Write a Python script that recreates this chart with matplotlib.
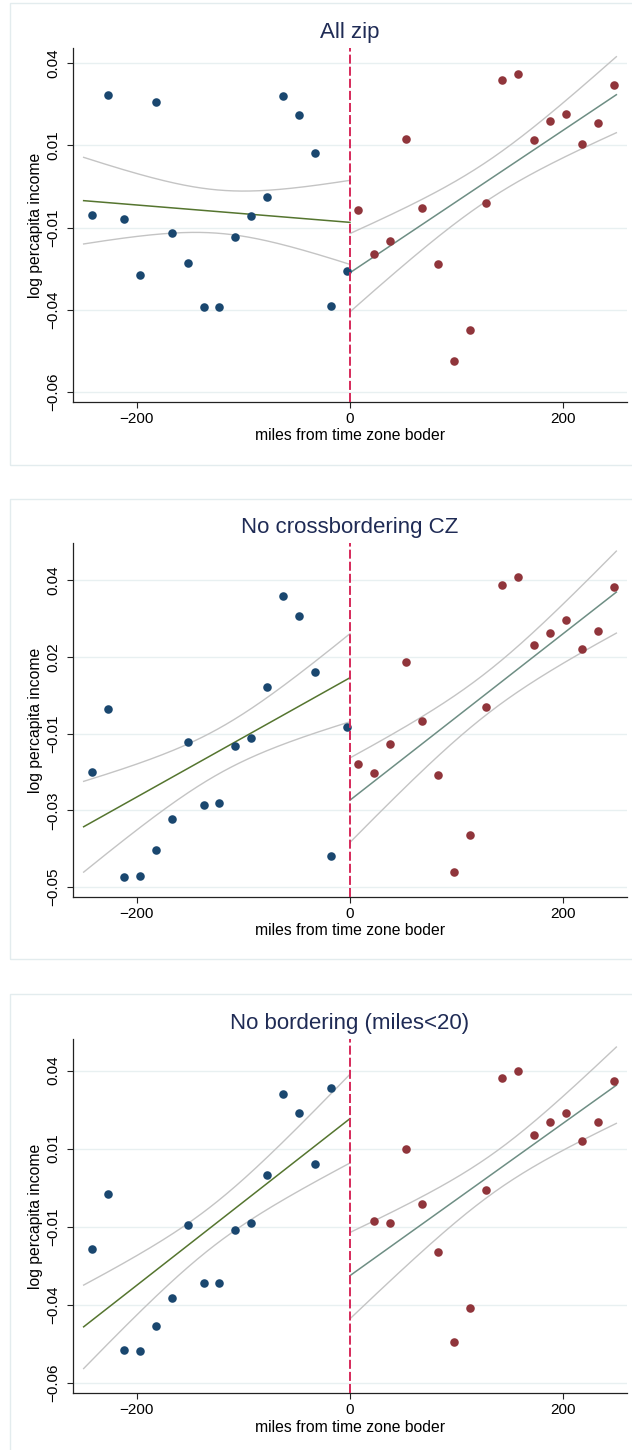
#!/usr/bin/env python3
# binned scatter of log percapita income around the time zone border, three samples
import matplotlib
matplotlib.use('Agg')
import matplotlib.pyplot as plt
from matplotlib.patches import Rectangle
import numpy as np

plt.rcParams['font.family'] = ['Liberation Sans', 'DejaVu Sans']
plt.rcParams['lines.scale_dashes'] = False

# bin centers (miles from border)
west_x = [-242.5, -227.5, -212.5, -197.5, -182.5, -167.5, -152.5, -137.5, -122.5,
          -107.5, -92.5, -77.5, -62.5, -47.5, -32.5, -17.5, -2.5]
east_x = [7.5, 22.5, 37.5, 52.5, 67.5, 82.5, 97.5, 112.5, 127.5,
          142.5, 157.5, 172.5, 187.5, 202.5, 217.5, 232.5, 247.5]

# panel 1: all zip
allzip_west = [-0.0062, 0.0304, -0.0075, -0.0244, 0.0281, -0.0115, -0.0208, -0.0340, -0.0340,
               -0.0128, -0.0065, -0.0007, 0.0301, 0.0241, 0.0128, -0.0337, -0.0231]
allzip_east = [-0.0046, -0.0180, -0.0141, 0.0169, -0.0040, -0.0210, -0.0504, -0.0410, -0.0025,
               0.0348, 0.0368, 0.0167, 0.0225, 0.0246, 0.0155, 0.0219, 0.0334]

# panel 2: no crossbordering CZ
nocz_west = [-0.0162, 0.0022, -0.0470, -0.0467, -0.0390, -0.0300, -0.0074, -0.0259, -0.0253,
             -0.0087, -0.0064, 0.0088, 0.0353, 0.0295, 0.0130, -0.0409, -0.0031]
nocz_east = [-0.0139, -0.0164, -0.0080, 0.0161, -0.0014, -0.0171, -0.0457, -0.0348, 0.0027,
             0.0387, 0.0409, 0.0210, 0.0246, 0.0282, 0.0198, 0.0250, 0.0379]

# panel 3: no bordering (miles<20) -> drops bins -2.5 and 7.5
nob_west_x = west_x[:-1]
nob_east_x = east_x[1:]
nob_west = [-0.0173, 0.0004, -0.0495, -0.0498, -0.0419, -0.0329, -0.0096, -0.0280, -0.0280,
            -0.0112, -0.0088, 0.0064, 0.0326, 0.0265, 0.0102, 0.0343]
nob_east = [-0.0082, -0.0089, 0.0150, -0.0028, -0.0181, -0.0470, -0.0362, 0.0016,
            0.0375, 0.0397, 0.0195, 0.0234, 0.0265, 0.0175, 0.0235, 0.0367]

# linear fits (estimated on the zip level data, read at the ends of each side)
fit_x_west = [-250, 0]
fit_x_east = [0, 250]
fit_allzip = ([-0.0018, -0.0084], [-0.0237, 0.0304])
fit_nocz = ([-0.0323, 0.0114], [-0.0245, 0.0365])
fit_nob = ([-0.0421, 0.0246], [-0.0257, 0.0353])
# scale of the confidence band (west, east)
ci_scales = [(0.0271, 0.0245), (0.0274, 0.0255), (0.0267, 0.0252)]

titles = ['All zip', 'No crossbordering CZ', 'No bordering (miles<20)']

# y axis ticks (stata rounds the labels)
ticks_1 = [0.04, 0.015, -0.01, -0.035, -0.06]
ticks_2 = [0.04, 0.0175, -0.005, -0.0275, -0.05]
ticks_3 = [0.04, 0.015, -0.01, -0.035, -0.06]
labels_1 = ['0.04', '0.01', '\u22120.01', '\u22120.04', '\u22120.06']
labels_2 = ['0.04', '0.02', '\u22120.01', '\u22120.03', '\u22120.05']
labels_3 = ['0.04', '0.01', '\u22120.01', '\u22120.04', '\u22120.06']

ylims = [(-0.0630, 0.0446), (-0.0529, 0.0509), (-0.0633, 0.0501)]

NAVY = '#1a476f'
MAROON = '#90353b'
GREEN = '#55752f'
TEAL = '#6e8e84'
CIGRAY = '#c4c4c4'
BORDER = '#e3ecee'

W, H = 632, 1450


def fitci(bx, fx, fy, scale):
    # line through the fitted ends, band shaped like an OLS prediction CI
    bx = np.asarray(bx, dtype=float)
    xs = np.linspace(fx[0], fx[1], 200)
    fit = np.interp(xs, fx, fy)
    xbar = bx.mean()
    sxx = np.sum((bx - xbar) ** 2)
    half = scale * np.sqrt(1.0 / len(bx) + (xs - xbar) ** 2 / sxx)
    return xs, fit, fit - half, fit + half


def panel(fig, top_px, bottom_px, title, wx, wy, ex, ey, fits, ticks, labels, ylim, scales):
    left_px, right_px = 73, 627
    ax = fig.add_axes([left_px / W, 1 - bottom_px / H,
                       (right_px - left_px) / W, (bottom_px - top_px) / H])

    for t in ticks:
        ax.axhline(t, color='#e8f0f1', lw=1.0, zorder=0)

    xs, fit, lo, hi = fitci(wx, fit_x_west, fits[0], scales[0])
    ax.plot(xs, lo, color=CIGRAY, lw=1.0, zorder=2)
    ax.plot(xs, hi, color=CIGRAY, lw=1.0, zorder=2)
    ax.plot(xs, fit, color=GREEN, lw=1.1, zorder=3)

    xs, fit, lo, hi = fitci(ex, fit_x_east, fits[1], scales[1])
    ax.plot(xs, lo, color=CIGRAY, lw=1.0, zorder=2)
    ax.plot(xs, hi, color=CIGRAY, lw=1.0, zorder=2)
    ax.plot(xs, fit, color=TEAL, lw=1.1, zorder=3)

    ax.scatter(wx, wy, s=38, color=NAVY, linewidths=0, zorder=4)
    ax.scatter(ex, ey, s=38, color=MAROON, linewidths=0, zorder=4)

    ax.axvline(0, color='#d6295a', lw=1.4, dashes=(6.5, 2.2), zorder=5)

    ax.set_xlim(-260, 260)
    ax.set_ylim(*ylim)
    ax.set_xticks([-200, 0, 200])
    ax.set_xticklabels(['\u2212200', '0', '200'])
    ax.set_yticks(ticks)
    ax.set_yticklabels(labels, rotation=90, va='center')

    for s in ['top', 'right']:
        ax.spines[s].set_visible(False)
    for s in ['left', 'bottom']:
        ax.spines[s].set_color('#222222')
        ax.spines[s].set_linewidth(0.9)
    ax.tick_params(axis='both', length=4, width=0.8, color='#222222', labelsize=11)
    ax.tick_params(axis='y', pad=5)
    ax.tick_params(axis='x', pad=3)

    ax.set_xlabel('miles from time zone boder', fontsize=11.3)
    ax.xaxis.set_label_coords(0.5, -34 / 354)
    ax.xaxis.label.set_va('center')
    ax.set_ylabel('log percapita income', fontsize=11.3)
    ax.yaxis.set_label_coords(-37 / 554, 0.5)
    ax.yaxis.label.set_va('center')

    ax.text(0.5, 1 + 9.5 / 354, title, transform=ax.transAxes, ha='center', va='baseline',
            fontsize=16, color='#1f2b55')
    return ax


def main():
    fig = plt.figure(figsize=(W / 100, H / 100), dpi=100)

    # light frames around each graph
    for y0, y1 in [(3, 465), (499, 959), (994, 1460)]:
        fig.patches.append(Rectangle((10 / W, 1 - y1 / H), 640 / W, (y1 - y0) / H,
                                     transform=fig.transFigure, fill=False,
                                     edgecolor=BORDER, lw=1.0))

    panel(fig, 48, 402, titles[0], west_x, allzip_west, east_x, allzip_east, fit_allzip,
          ticks_1, labels_1, ylims[0], ci_scales[0])
    panel(fig, 543, 897, titles[1], west_x, nocz_west, east_x, nocz_east, fit_nocz,
          ticks_2, labels_2, ylims[1], ci_scales[1])
    panel(fig, 1039, 1393, titles[2], nob_west_x, nob_west, nob_east_x, nob_east, fit_nob,
          ticks_3, labels_3, ylims[2], ci_scales[2])

    fig.savefig('out.png', dpi=100)
    plt.close(fig)


if __name__ == '__main__':
    main()
